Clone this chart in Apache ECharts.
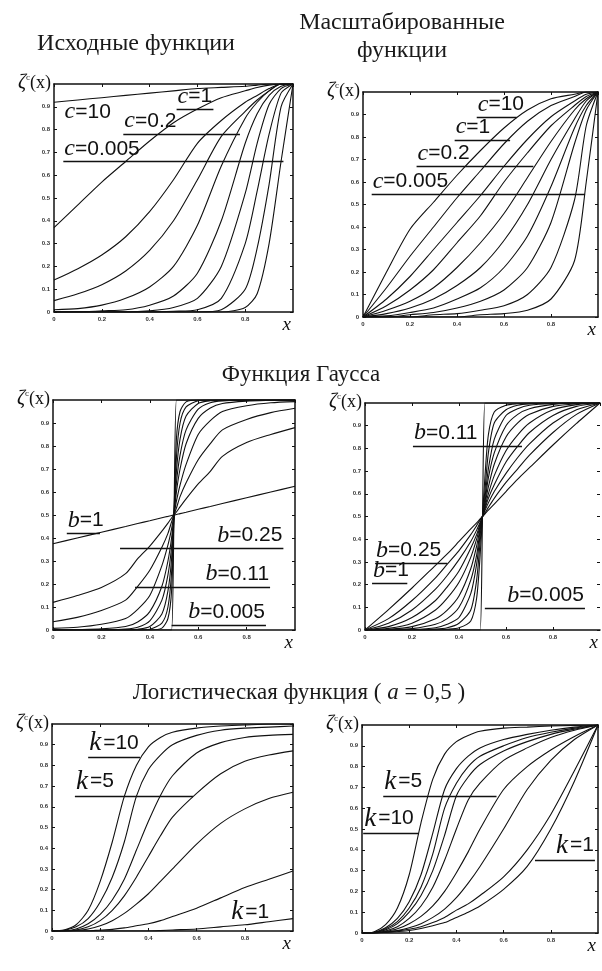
<!DOCTYPE html>
<html>
<head>
<meta charset="utf-8">
<script src="https://cdn.jsdelivr.net/npm/echarts@6/dist/echarts.min.js"></script>
<style>
html, body { margin: 0; padding: 0; background: #fff; }
#chart { width: 602px; height: 971px; }
</style>
</head>
<body>
<div id="chart"></div>
<script>
// сетки по x для каждого ряда графиков
var xPow = [0, 0.1, 0.2, 0.3, 0.4, 0.5, 0.6, 0.7, 0.8, 0.85, 0.9, 0.95, 1];
var xPowScaled = [0, 0.1, 0.2, 0.3, 0.4, 0.5, 0.6, 0.7, 0.8, 0.9, 0.95, 1];
var xGauss = [0, 0.1, 0.2, 0.3, 0.35, 0.4, 0.45, 0.475, 0.49, 0.5, 0.51, 0.525, 0.55, 0.6, 0.65, 0.7, 0.8, 0.9, 1];
var xLogit = [0, 0.05, 0.1, 0.15, 0.2, 0.25, 0.3, 0.35, 0.4, 0.45, 0.5, 0.6, 0.7, 0.8, 0.9, 1];

// подписи делений
var xTickLabels = ['0', '0.2', '0.4', '0.6', '0.8'];
var yTickLabels = ['0', '0.1', '0.2', '0.3', '0.4', '0.5', '0.6', '0.7', '0.8', '0.9'];

// исходные функции (c = 10 ... c = 0.005)
var powCurves = [
  [0.92, 0.93, 0.94, 0.95, 0.96, 0.97, 0.98, 0.985, 0.99, 0.995, 1, 1, 1],
  [0.37, 0.47, 0.57, 0.66, 0.75, 0.83, 0.89, 0.94, 0.97, 0.985, 0.995, 1, 1],
  [0.14, 0.19, 0.25, 0.33, 0.44, 0.58, 0.74, 0.84, 0.92, 0.95, 0.98, 1, 1],
  [0.05, 0.08, 0.12, 0.18, 0.27, 0.4, 0.58, 0.77, 0.88, 0.93, 0.97, 1, 1],
  [0.01, 0.015, 0.03, 0.06, 0.11, 0.2, 0.38, 0.64, 0.85, 0.92, 0.97, 1, 1],
  [0, 0, 0.005, 0.01, 0.03, 0.07, 0.17, 0.4, 0.74, 0.87, 0.95, 0.99, 1],
  [0, 0, 0, 0, 0.005, 0.02, 0.06, 0.2, 0.52, 0.74, 0.91, 0.98, 1],
  [0, 0, 0, 0, 0, 0.003, 0.01, 0.06, 0.3, 0.53, 0.78, 0.96, 1],
  [0, 0, 0, 0, 0, 0, 0, 0.01, 0.1, 0.28, 0.56, 0.9, 1],
  [0, 0, 0, 0, 0, 0, 0, 0, 0.02, 0.08, 0.3, 0.66, 1]
];

// масштабированные
var powScaledCurves = [
  [0, 0.2, 0.39, 0.51, 0.63, 0.74, 0.84, 0.92, 0.97, 0.99, 1, 1],
  [0, 0.13, 0.27, 0.4, 0.53, 0.65, 0.77, 0.87, 0.94, 0.98, 1, 1],
  [0, 0.08, 0.18, 0.3, 0.42, 0.54, 0.67, 0.79, 0.89, 0.96, 0.99, 1],
  [0, 0.05, 0.12, 0.21, 0.33, 0.45, 0.6, 0.73, 0.85, 0.94, 0.98, 1],
  [0, 0.03, 0.07, 0.13, 0.22, 0.33, 0.46, 0.62, 0.78, 0.92, 0.97, 1],
  [0, 0.015, 0.04, 0.08, 0.14, 0.22, 0.34, 0.5, 0.7, 0.88, 0.96, 1],
  [0, 0.005, 0.02, 0.04, 0.08, 0.13, 0.22, 0.36, 0.58, 0.84, 0.94, 1],
  [0, 0, 0.01, 0.02, 0.04, 0.07, 0.12, 0.22, 0.42, 0.77, 0.92, 1],
  [0, 0, 0, 0.01, 0.015, 0.03, 0.05, 0.1, 0.22, 0.52, 0.85, 1],
  [0, 0, 0, 0, 0, 0.01, 0.015, 0.03, 0.08, 0.25, 0.6, 1]
];

// функция Гаусса, исходная (b = 1 ... b = 0.005)
var gaussCurves = [
  [0.375, 0.4, 0.425, 0.45, 0.463, 0.475, 0.488, 0.494, 0.498, 0.5, 0.502, 0.506, 0.512, 0.525, 0.537, 0.55, 0.575, 0.6, 0.625],
  [0.12, 0.15, 0.185, 0.245, 0.31, 0.365, 0.43, 0.465, 0.487, 0.5, 0.513, 0.535, 0.57, 0.635, 0.69, 0.755, 0.815, 0.85, 0.88],
  [0.036, 0.055, 0.085, 0.13, 0.19, 0.26, 0.36, 0.42, 0.47, 0.5, 0.53, 0.58, 0.64, 0.74, 0.81, 0.87, 0.915, 0.945, 0.964],
  [0.007, 0.012, 0.025, 0.05, 0.09, 0.15, 0.28, 0.37, 0.44, 0.5, 0.56, 0.63, 0.72, 0.85, 0.91, 0.95, 0.975, 0.988, 0.993],
  [0, 0.002, 0.005, 0.015, 0.035, 0.08, 0.19, 0.3, 0.4, 0.5, 0.6, 0.7, 0.81, 0.92, 0.965, 0.985, 0.995, 0.998, 1],
  [0, 0, 0, 0.004, 0.012, 0.04, 0.13, 0.24, 0.36, 0.5, 0.64, 0.76, 0.87, 0.96, 0.988, 0.996, 1, 1, 1],
  [0, 0, 0, 0, 0.003, 0.015, 0.07, 0.17, 0.31, 0.5, 0.69, 0.83, 0.93, 0.985, 0.997, 1, 1, 1, 1],
  [0, 0, 0, 0, 0, 0.003, 0.03, 0.1, 0.25, 0.5, 0.75, 0.9, 0.97, 0.997, 1, 1, 1, 1, 1],
  [0, 0, 0, 0, 0, 0, 0.008, 0.05, 0.17, 0.5, 0.83, 0.95, 0.992, 1, 1, 1, 1, 1, 1],
  [0, 0, 0, 0, 0, 0, 0, 0, 0, 0.5, 1, 1, 1, 1, 1, 1, 1, 1, 1]
];

// функция Гаусса, масштабированная
var gaussScaledCurves = [
  [0, 0.09, 0.185, 0.285, 0.335, 0.39, 0.445, 0.472, 0.489, 0.5, 0.511, 0.528, 0.555, 0.61, 0.665, 0.715, 0.815, 0.91, 1],
  [0, 0.05, 0.13, 0.23, 0.29, 0.35, 0.42, 0.46, 0.485, 0.5, 0.515, 0.54, 0.58, 0.65, 0.71, 0.77, 0.87, 0.95, 1],
  [0, 0.03, 0.088, 0.18, 0.24, 0.31, 0.39, 0.44, 0.475, 0.5, 0.525, 0.56, 0.61, 0.69, 0.76, 0.82, 0.912, 0.97, 1],
  [0, 0.015, 0.055, 0.13, 0.19, 0.26, 0.36, 0.42, 0.468, 0.5, 0.532, 0.58, 0.64, 0.74, 0.81, 0.87, 0.945, 0.985, 1],
  [0, 0.007, 0.03, 0.088, 0.14, 0.21, 0.32, 0.4, 0.46, 0.5, 0.54, 0.6, 0.68, 0.79, 0.86, 0.912, 0.97, 0.993, 1],
  [0, 0.003, 0.015, 0.05, 0.088, 0.15, 0.27, 0.37, 0.45, 0.5, 0.55, 0.63, 0.73, 0.85, 0.912, 0.95, 0.985, 0.997, 1],
  [0, 0, 0.006, 0.025, 0.05, 0.1, 0.22, 0.33, 0.44, 0.5, 0.56, 0.67, 0.78, 0.9, 0.95, 0.975, 0.994, 1, 1],
  [0, 0, 0.002, 0.01, 0.025, 0.055, 0.16, 0.29, 0.42, 0.5, 0.58, 0.71, 0.84, 0.945, 0.975, 0.99, 0.998, 1, 1],
  [0, 0, 0, 0.004, 0.01, 0.03, 0.088, 0.22, 0.39, 0.5, 0.61, 0.78, 0.912, 0.97, 0.99, 0.996, 1, 1, 1],
  [0, 0, 0, 0, 0.003, 0.01, 0.04, 0.14, 0.33, 0.5, 0.67, 0.86, 0.96, 0.99, 0.997, 1, 1, 1, 1],
  [0, 0, 0, 0, 0, 0, 0, 0, 0, 0.5, 1, 1, 1, 1, 1, 1, 1, 1, 1]
];

// логистическая функция, исходная (k = 10 ... k = 1)
var logitCurves = [
  [0, 0.005, 0.03, 0.1, 0.24, 0.43, 0.65, 0.8, 0.89, 0.935, 0.96, 0.98, 0.99, 0.995, 1, 1],
  [0, 0.003, 0.02, 0.06, 0.14, 0.26, 0.43, 0.65, 0.78, 0.85, 0.9, 0.945, 0.97, 0.98, 0.985, 0.99],
  [0, 0, 0.01, 0.035, 0.08, 0.15, 0.25, 0.39, 0.53, 0.655, 0.75, 0.86, 0.91, 0.935, 0.945, 0.95],
  [0, 0, 0.005, 0.02, 0.05, 0.1, 0.17, 0.26, 0.36, 0.46, 0.55, 0.665, 0.76, 0.82, 0.85, 0.87],
  [0, 0, 0.003, 0.01, 0.025, 0.05, 0.085, 0.13, 0.18, 0.24, 0.3, 0.42, 0.52, 0.59, 0.64, 0.67],
  [0, 0, 0, 0, 0.005, 0.008, 0.015, 0.025, 0.035, 0.05, 0.07, 0.11, 0.16, 0.21, 0.25, 0.29],
  [0, 0, 0, 0, 0, 0, 0, 0, 0, 0.002, 0.005, 0.01, 0.02, 0.03, 0.045, 0.06]
];

// логистическая, масштабированная
var logitScaledCurves = [
  [0, 0.005, 0.04, 0.12, 0.28, 0.53, 0.74, 0.86, 0.92, 0.95, 0.97, 0.985, 0.99, 0.995, 0.998, 1],
  [0, 0.003, 0.025, 0.07, 0.15, 0.28, 0.48, 0.69, 0.79, 0.85, 0.89, 0.93, 0.955, 0.975, 0.99, 1],
  [0, 0.002, 0.02, 0.055, 0.12, 0.22, 0.38, 0.6, 0.72, 0.8, 0.85, 0.9, 0.94, 0.965, 0.985, 1],
  [0, 0.002, 0.015, 0.045, 0.1, 0.18, 0.3, 0.47, 0.66, 0.75, 0.81, 0.875, 0.92, 0.955, 0.98, 1],
  [0, 0.001, 0.01, 0.03, 0.07, 0.13, 0.22, 0.35, 0.5, 0.64, 0.72, 0.83, 0.89, 0.94, 0.975, 1],
  [0, 0, 0.007, 0.02, 0.045, 0.08, 0.13, 0.2, 0.29, 0.39, 0.5, 0.69, 0.8, 0.88, 0.945, 1],
  [0, 0, 0.005, 0.012, 0.025, 0.045, 0.075, 0.115, 0.17, 0.24, 0.32, 0.5, 0.69, 0.83, 0.93, 1],
  [0, 0, 0.004, 0.01, 0.018, 0.03, 0.05, 0.075, 0.11, 0.14, 0.18, 0.27, 0.4, 0.57, 0.78, 1],
  [0, 0, 0.003, 0.007, 0.012, 0.022, 0.035, 0.05, 0.075, 0.1, 0.13, 0.21, 0.32, 0.5, 0.73, 1]
];

// подписи параметров: переменная, значение, положение черты в координатах данных
var powNotes = [
  {v: 'c', val: '10', y: 0.82, x1: 0.04, x2: 0.3, bare: true},
  {v: 'c', val: '1', y: 0.889, x1: 0.513, x2: 0.667},
  {v: 'c', val: '0.2', y: 0.78, x1: 0.29, x2: 0.778},
  {v: 'c', val: '0.005', y: 0.659, x1: 0.039, x2: 0.96}
];
var powScaledNotes = [
  {v: 'c', val: '10', y: 0.888, x1: 0.484, x2: 0.654},
  {v: 'c', val: '1', y: 0.787, x1: 0.39, x2: 0.626},
  {v: 'c', val: '0.2', y: 0.668, x1: 0.228, x2: 0.725},
  {v: 'c', val: '0.005', y: 0.545, x1: 0.037, x2: 0.945}
];
var gaussNotes = [
  {v: 'b', val: '1', y: 0.42, x1: 0.057, x2: 0.194},
  {v: 'b', val: '0.25', y: 0.355, x1: 0.277, x2: 0.952, end: true},
  {v: 'b', val: '0.11', y: 0.188, x1: 0.339, x2: 0.897, end: true},
  {v: 'b', val: '0.005', y: 0.022, x1: 0.49, x2: 0.88, end: true}
];
var gaussScaledNotes = [
  {v: 'b', val: '0.11', y: 0.81, x1: 0.204, x2: 0.668},
  {v: 'b', val: '0.25', y: 0.294, x1: 0.043, x2: 0.35},
  {v: 'b', val: '1', y: 0.206, x1: 0.03, x2: 0.18},
  {v: 'b', val: '0.005', y: 0.096, x1: 0.51, x2: 0.936, end: true}
];
var logitNotes = [
  {v: 'k', val: '10', y: 0.839, x1: 0.15, x2: 0.365},
  {v: 'k', val: '5', y: 0.652, x1: 0.095, x2: 0.585},
  {v: 'k', val: '1', y: 0.02, x1: 0.74, x2: 0.98, bare: true}
];
var logitScaledNotes = [
  {v: 'k', val: '5', y: 0.659, x1: 0.09, x2: 0.57},
  {v: 'k', val: '10', y: 0.48, x1: 0.005, x2: 0.24},
  {v: 'k', val: '1', y: 0.35, x1: 0.733, x2: 0.987, end: true}
];

var ink = '#111';
var serif = '"Liberation Serif", "Times New Roman", serif';
var sans = '"Liberation Sans", Arial, sans-serif';

var panels = [
  {rect: [54, 84, 239, 228], xs: xPow, ys: powCurves, notes: powNotes, rightLine: true},
  {rect: [363, 92, 235, 225], xs: xPowScaled, ys: powScaledCurves, notes: powScaledNotes, rightLine: true},
  {rect: [53, 400, 242, 230], xs: xGauss, ys: gaussCurves, notes: gaussNotes, rightLine: true},
  {rect: [365, 403, 235, 227], xs: xGauss, ys: gaussScaledCurves, notes: gaussScaledNotes, rightLine: false},
  {rect: [52, 724, 241, 207], xs: xLogit, ys: logitCurves, notes: logitNotes, rightLine: true},
  {rect: [362, 725, 236, 208], xs: xLogit, ys: logitScaledCurves, notes: logitScaledNotes, rightLine: true}
];

var noteRich = {
  v: {fontFamily: serif, fontStyle: 'italic', fontSize: 24, color: ink},
  k: {fontFamily: serif, fontStyle: 'italic', fontSize: 27, color: ink, padding: [0, 2, 0, 0]},
  n: {fontFamily: sans, fontSize: 21, color: ink}
};

function noteLines(notes) {
  return {
    silent: true,
    symbol: ['none', 'none'],
    lineStyle: {color: ink, width: 1.3, type: 'solid'},
    data: notes.map(function (n) {
      var tag = n.v === 'k' ? 'k' : 'v';
      var text = '{' + tag + '|' + n.v + '}{n|=' + n.val + '}';
      var first = {
        coord: [n.x1, n.y],
        label: {
          show: true,
          position: n.end ? 'insideEndTop' : 'insideStartTop',
          distance: 1,
          formatter: function () { return text; },
          rich: noteRich
        }
      };
      // подпись без черты
      if (n.bare) first.lineStyle = {color: 'rgba(0,0,0,0)'};
      return [first, {coord: [n.x2, n.y]}];
    })
  };
}

var tickLabel = {fontSize: 6, fontWeight: 'bold', fontFamily: sans, color: '#333'};

var option = {
  backgroundColor: '#fff',
  animation: false,
  title: [
    {text: 'Исходные функции', left: 131, top: 27, textAlign: 'center',
      textStyle: {fontFamily: serif, fontSize: 24, fontWeight: 'normal', color: '#1a1a1a'}},
    {text: 'Масштабированные\nфункции', left: 397, top: 4, textAlign: 'center',
      textStyle: {fontFamily: serif, fontSize: 24, fontWeight: 'normal', color: '#1a1a1a', lineHeight: 28}},
    {text: 'Функция Гаусса', left: 296, top: 358, textAlign: 'center',
      textStyle: {fontFamily: serif, fontSize: 23, fontWeight: 'normal', color: '#1a1a1a'}},
    {text: 'Логистическая функция ( {i|a} = 0,5 )', left: 294, top: 676, textAlign: 'center',
      textStyle: {fontFamily: serif, fontSize: 23, fontWeight: 'normal', color: '#1a1a1a',
        rich: {i: {fontFamily: serif, fontStyle: 'italic', fontSize: 23, color: '#1a1a1a'}}}}
  ],
  grid: [],
  xAxis: [],
  yAxis: [],
  series: []
};

panels.forEach(function (p, i) {
  option.grid.push({left: p.rect[0], top: p.rect[1], width: p.rect[2], height: p.rect[3], outerBoundsMode: 'none'});

  // нижняя ось x
  option.xAxis.push({
    gridIndex: i, type: 'value', min: 0, max: 1, interval: 0.2, position: 'bottom',
    axisLine: {onZero: false, lineStyle: {color: ink, width: 1.5}},
    axisTick: {inside: true, length: 3, lineStyle: {color: ink}},
    axisLabel: Object.assign({margin: 4, showMaxLabel: false,
      formatter: function (v) { return xTickLabels[Math.round(v / 0.2)] || ''; }}, tickLabel),
    splitLine: {show: false},
    name: 'x', nameLocation: 'end', nameGap: -2,
    nameTextStyle: {fontFamily: serif, fontStyle: 'italic', fontSize: 19, color: ink,
      align: 'right', verticalAlign: 'top', padding: [3, 0, 0, 0]}
  });
  // верхняя рамка
  option.xAxis.push({
    gridIndex: i, type: 'value', min: 0, max: 1, interval: 0.2, position: 'top',
    axisLine: {onZero: false, lineStyle: {color: ink, width: 1.5}},
    axisTick: {inside: true, length: 3, lineStyle: {color: ink}},
    axisLabel: {show: false}, splitLine: {show: false}
  });
  // левая ось y
  option.yAxis.push({
    gridIndex: i, type: 'value', min: 0, max: 1, interval: 0.1, position: 'left',
    axisLine: {onZero: false, lineStyle: {color: ink, width: 1.5}},
    axisTick: {inside: true, length: 3, lineStyle: {color: ink}},
    axisLabel: Object.assign({margin: 4, showMaxLabel: false,
      formatter: function (v) { return yTickLabels[Math.round(v * 10)] || ''; }}, tickLabel),
    splitLine: {show: false},
    name: '{z|ζ}{s|c}{p|(x)}', nameLocation: 'end', nameGap: -9,
    nameTextStyle: {align: 'right', verticalAlign: 'bottom', padding: [0, 3, 0, 0],
      rich: {
        z: {fontFamily: serif, fontStyle: 'italic', fontSize: 20, color: ink},
        s: {fontFamily: serif, fontSize: 9, color: ink, verticalAlign: 'top'},
        p: {fontFamily: serif, fontSize: 18, color: ink}
      }}
  });
  // правая рамка
  option.yAxis.push({
    gridIndex: i, type: 'value', min: 0, max: 1, interval: 0.1, position: 'right',
    axisLine: {show: p.rightLine, onZero: false, lineStyle: {color: ink, width: 1.5}},
    axisTick: {show: true, inside: true, length: 3, lineStyle: {color: ink}},
    axisLabel: {show: false}, splitLine: {show: false}
  });

  p.ys.forEach(function (ys, j) {
    var s = {
      type: 'line',
      xAxisIndex: 2 * i,
      yAxisIndex: 2 * i,
      data: p.xs.map(function (x, k) { return [x, ys[k]]; }),
      showSymbol: false,
      smooth: 0.25,
      silent: true,
      lineStyle: {color: ink, width: 1.1},
      z: 3
    };
    if (j === 0) s.markLine = noteLines(p.notes);
    option.series.push(s);
  });
});

var chart = echarts.init(document.getElementById('chart'), null, {renderer: 'canvas'});
chart.setOption(option);
</script>
</body>
</html>
